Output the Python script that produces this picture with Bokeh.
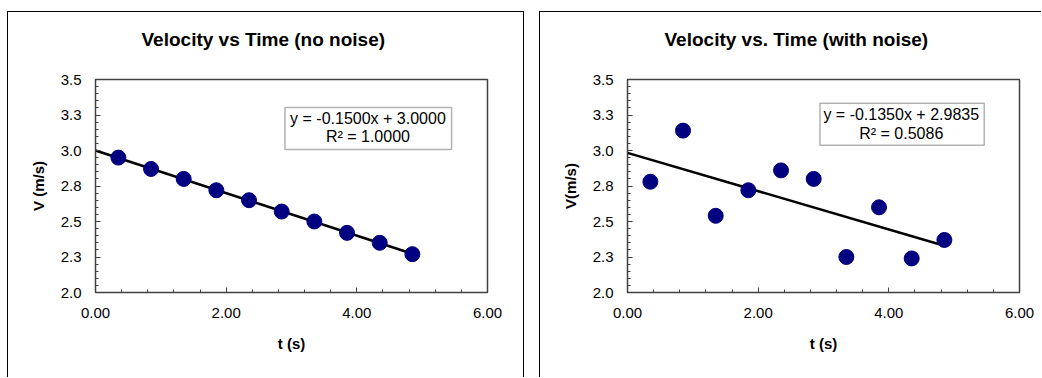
from bokeh.plotting import figure
from bokeh.layouts import row
from bokeh.models import FixedTicker, Label, BoxAnnotation, Title
from bokeh.embed import file_html
from bokeh.resources import INLINE

# ---- data ----
t_values = [0.35, 0.85, 1.35, 1.85, 2.35, 2.85, 3.35, 3.85, 4.35, 4.85]
v_no_noise = [2.95, 2.87, 2.80, 2.72, 2.65, 2.57, 2.50, 2.42, 2.35, 2.27]
v_with_noise = [2.78, 3.14, 2.54, 2.72, 2.86, 2.80, 2.25, 2.60, 2.24, 2.37]

fit_no_noise = {"slope": -0.1500, "intercept": 3.0000, "r2": 1.0000}
fit_with_noise = {"slope": -0.1350, "intercept": 2.9835, "r2": 0.5086}
fit_t_range = [0.0, 4.85]

titles = ["Velocity vs Time (no noise)", "Velocity vs. Time (with noise)"]
y_labels = ["V (m/s)", "V(m/s)"]
x_label = "t (s)"

x_ticks = [0, 2, 4, 6]
x_tick_labels = ["0.00", "2.00", "4.00", "6.00"]
x_minor = [0.4 * i for i in range(16)]
y_ticks = [2.0, 2.25, 2.5, 2.75, 3.0, 3.25, 3.5]
y_tick_labels = ["2.0", "2.3", "2.5", "2.8", "3.0", "3.3", "3.5"]
y_minor = [2.0 + 0.05 * i for i in range(31)]

FONT = "Liberation Sans"


def make_panel(title, ylabel, v, fit, width, mb_left, mb_right, title_offset,
               legend_box, legend_xy, borders):
    p = figure(width=width, height=366, x_range=(0, 6), y_range=(2.0, 3.5),
               output_backend="svg", toolbar_location=None,
               min_border_left=mb_left, min_border_right=mb_right,
               min_border_top=67, min_border_bottom=86)
    p.styles = dict({"box-sizing": "border-box"}, **{b: "1px solid black" for b in borders})
    p.grid.visible = False
    p.outline_line_color = "#404040"
    p.outline_line_width = 1.5
    p.background_fill_color = "white"
    p.border_fill_color = "white"

    # invisible spacer between the plot area and the title
    p.add_layout(Title(text=" ", text_font_size="1px", standoff=22,
                       text_color="white"), "above")

    p.title.text = title
    p.title.text_font = FONT
    p.title.text_font_style = "bold"
    p.title.text_font_size = "19px"
    p.title.text_color = "black"
    p.title.align = "left"
    p.title.offset = title_offset
    p.title.standoff = 10

    xa = p.xaxis[0]
    xa.ticker = FixedTicker(ticks=x_ticks, minor_ticks=x_minor)
    xa.major_label_overrides = {tk: lb for tk, lb in zip(x_ticks, x_tick_labels)}
    ya = p.yaxis[0]
    ya.ticker = FixedTicker(ticks=y_ticks, minor_ticks=y_minor)
    ya.major_label_overrides = {tk: lb for tk, lb in zip(y_ticks, y_tick_labels)}
    for ax in (xa, ya):
        ax.major_tick_in = 5
        ax.major_tick_out = 0
        ax.minor_tick_in = 3
        ax.minor_tick_out = 0
        ax.axis_line_color = "#404040"
        ax.major_tick_line_color = "#404040"
        ax.minor_tick_line_color = "#404040"
        ax.major_label_text_font = FONT
        ax.major_label_text_font_size = "15px"
        ax.major_label_text_color = "black"
        ax.axis_label_text_font = FONT
        ax.axis_label_text_font_style = "bold"
        ax.axis_label_text_font_size = "15px"
        ax.axis_label_text_color = "black"
    xa.axis_label = x_label
    xa.major_label_standoff = 15
    xa.axis_label_standoff = 14
    ya.axis_label = ylabel
    ya.major_label_standoff = 14
    ya.axis_label_standoff = 11

    fit_v = [fit["intercept"] + fit["slope"] * x for x in fit_t_range]
    p.line(fit_t_range, fit_v, line_color="black", line_width=2.5)
    p.scatter(t_values, v, size=15, fill_color="#000080", line_color="#000080")

    left, right, bottom, top = legend_box
    p.add_layout(BoxAnnotation(left=left, right=right, bottom=bottom, top=top,
                               fill_color="white", fill_alpha=1.0,
                               line_color="black", line_width=1.5))
    cx, y1, y2 = legend_xy
    eq = "y = %.4fx + %.4f" % (fit["slope"], fit["intercept"])
    r2 = "R\u00b2 = %.4f" % fit["r2"]
    for txt, yy in ((eq, y1), (r2, y2)):
        p.add_layout(Label(x=cx, y=yy, text=txt, text_align="center",
                           text_baseline="middle", text_font=FONT,
                           text_font_size="16px", text_color="black"))
    return p


p1 = make_panel(titles[0], y_labels[0], v_no_noise, fit_no_noise,
                517, 87, 38, 46, (2.90, 5.45, 3.007, 3.303), (4.17, 3.225, 3.099),
                ["border-left", "border-top", "border-right"])
p2 = make_panel(titles[1], y_labels[1], v_with_noise, fit_with_noise,
                502, 87, 23, 37, (2.946, 5.46, 3.037, 3.332), (4.19, 3.255, 3.121),
                ["border-left", "border-top"])
p1.margin = (11, 0, 0, 7)
p2.margin = (11, 0, 0, 15)

layout = row(p1, p2)
open("out.html", "w").write(file_html(layout, INLINE))
